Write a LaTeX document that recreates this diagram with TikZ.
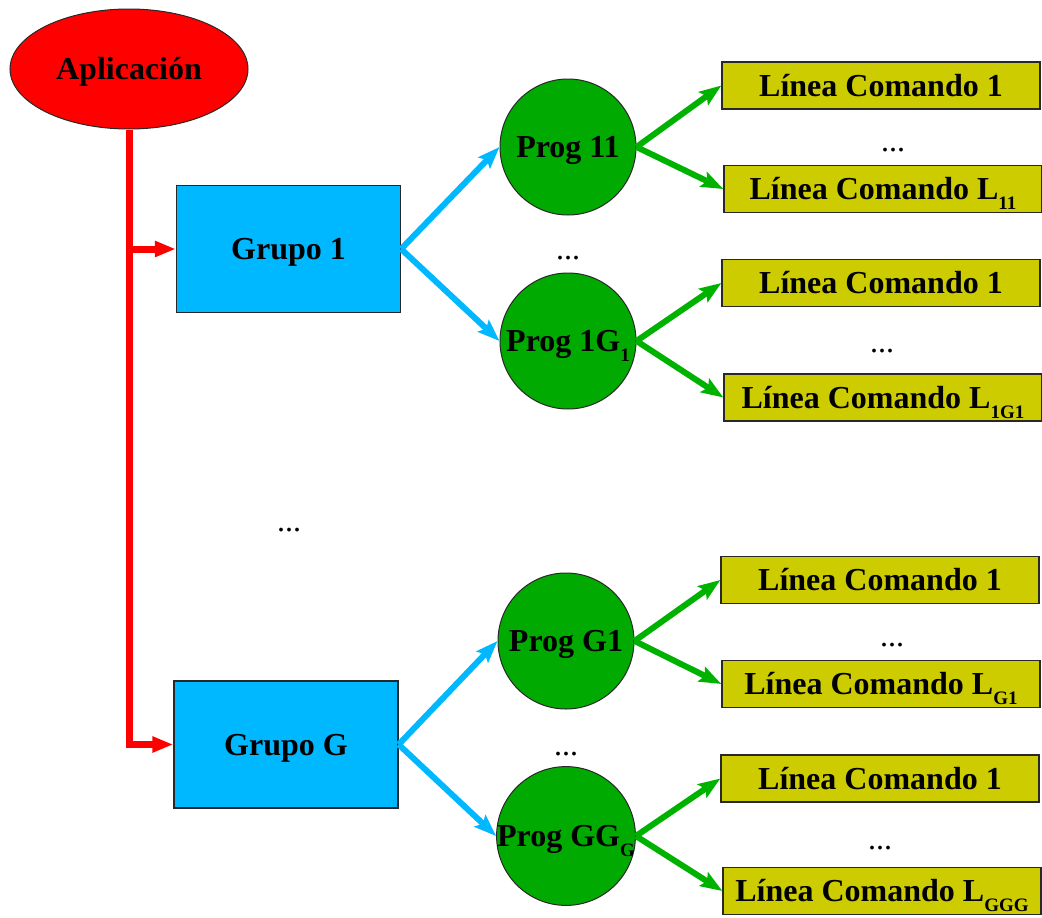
\documentclass[tikz,border=0pt]{standalone}
\usepackage{fontspec}
\setmainfont{Liberation Serif}
\usetikzlibrary{arrows.meta,shapes.geometric}

\definecolor{appred}{RGB}{255,0,0}
\definecolor{grpblue}{RGB}{0,184,255}
\definecolor{proggreen}{RGB}{0,170,0}
\definecolor{arrgreen}{RGB}{0,178,0}
\definecolor{cmdyellow}{RGB}{204,204,0}
\definecolor{edgegray}{RGB}{40,40,40}

% lowered, smaller index text
\newcommand{\idx}[1]{\raisebox{-10pt}{\fontsize{19}{19}\selectfont #1}}

\tikzset{
  lbl/.style={font=\fontsize{32}{36}\selectfont\bfseries, text=black,
    text height=21pt, text depth=0pt},
  appnode/.style={ellipse, draw=edgegray, line width=1pt, fill=appred,
    minimum width=238pt, minimum height=120pt, inner sep=0pt, lbl},
  grpnode/.style={rectangle, draw=edgegray, line width=1.3pt, fill=grpblue,
    minimum width=224pt, minimum height=127pt, inner sep=0pt, lbl},
  prognode/.style={circle, draw=edgegray, line width=1pt, fill=proggreen,
    minimum size=136pt, inner sep=0pt, lbl},
  cmdnode/.style={rectangle, draw=edgegray, line width=1.3pt, fill=cmdyellow,
    minimum width=318pt, minimum height=47pt, inner sep=0pt, lbl},
  gap/.style={anchor=base, font=\fontsize{32}{36}\selectfont, inner sep=0pt},
  redlink/.style={draw=appred, line width=7pt,
    -{Triangle[length=21pt,width=15pt]}},
  bluelink/.style={draw=grpblue, line width=6pt,
    -{Stealth[length=22pt,width=16pt,inset=4pt]}},
  greenlink/.style={draw=arrgreen, line width=6pt,
    -{Stealth[length=22pt,width=16pt,inset=4pt]}},
}

\begin{document}
\begin{tikzpicture}[x=1pt,y=-1pt]
  \useasboundingbox (0,0) rectangle (1042,918);

  % root
  \node[appnode] (app) at (129,69) {Aplicación};

  % groups
  \node[grpnode] (g1) at (288.5,249) {Grupo 1};
  \node[grpnode] (gG) at (286,744.5) {Grupo G};

  % programs
  \node[prognode] (p11)  at (568,147) {Prog 11};
  \node[prognode] (p1G)  at (568,341) {Prog 1G\idx{1}};
  \node[prognode] (pG1)  at (566,641) {Prog G1};
  \node[prognode] (pGG)  at (566,836) {Prog GG\idx{G}};

  % command lines
  \node[cmdnode] (c11a) at (881,85.5) {Línea Comando 1};
  \node[cmdnode] (c11b) at (883,189)  {Línea Comando L\idx{11}};
  \node[cmdnode] (c1Ga) at (881,283)  {Línea Comando 1};
  \node[cmdnode] (c1Gb) at (883,397.5) {Línea Comando L\idx{1G1}};
  \node[cmdnode] (cG1a) at (880,580)  {Línea Comando 1};
  \node[cmdnode] (cG1b) at (881,684)  {Línea Comando L\idx{G1}};
  \node[cmdnode] (cGGa) at (880,778.5) {Línea Comando 1};
  \node[cmdnode] (cGGb) at (882,891)  {Línea Comando L\idx{GGG}};

  % ellipsis marks
  \node[gap] (d0) at (289,531) {...};
  \node[gap] (d1) at (568,259) {...};
  \node[gap] (d2) at (566,755) {...};
  \node[gap] (d3) at (893,151) {...};
  \node[gap] (d4) at (882,352) {...};
  \node[gap] (d5) at (892,646) {...};
  \node[gap] (d6) at (880,849) {...};

  % root to groups
  \coordinate (trunk) at (app.south |- g1.west);
  \draw[redlink] (app.south) |- (gG.west);
  \draw[redlink] ([xshift=-3.5pt]trunk) -- (g1.west);

  % groups to programs
  \draw[bluelink] (g1.east) -- (p11.west);
  \draw[bluelink] (g1.east) -- (p1G.west);
  \draw[bluelink] (gG.east) -- (pG1.west);
  \draw[bluelink] (gG.east) -- (pGG.west);

  % programs to command lines
  \draw[greenlink] (p11.east) -- (c11a.west);
  \draw[greenlink] (p11.east) -- (c11b.west);
  \draw[greenlink] (p1G.east) -- (c1Ga.west);
  \draw[greenlink] (p1G.east) -- (c1Gb.west);
  \draw[greenlink] (pG1.east) -- (cG1a.west);
  \draw[greenlink] (pG1.east) -- (cG1b.west);
  \draw[greenlink] (pGG.east) -- (cGGa.west);
  \draw[greenlink] (pGG.east) -- (cGGb.west);
\end{tikzpicture}
\end{document}
